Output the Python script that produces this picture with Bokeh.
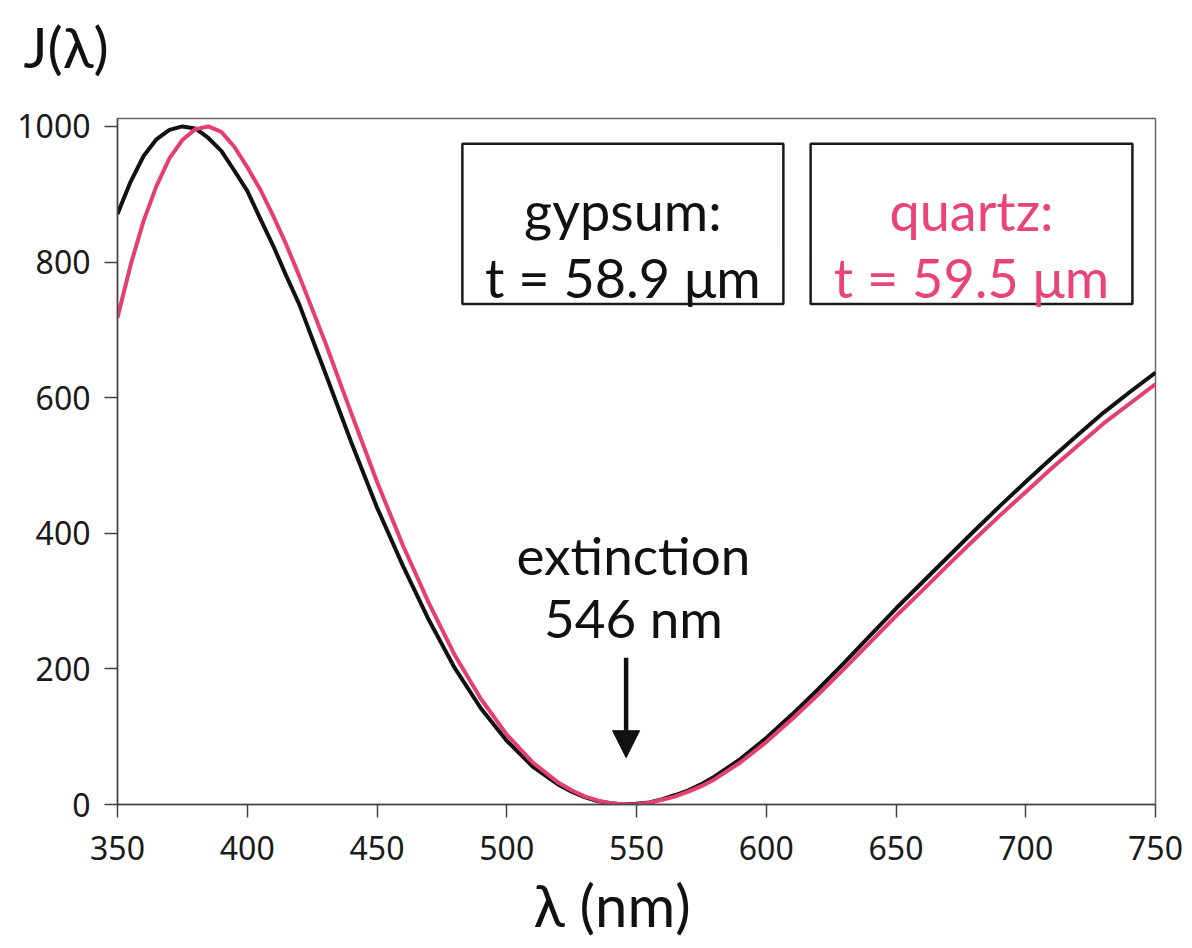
from bokeh.plotting import figure
from bokeh.models import Range1d, FixedTicker, BoxAnnotation, Label, Arrow, NormalHead, ColumnDataSource, Title
from bokeh.embed import file_html
from bokeh.resources import INLINE

# ---- data ----
wavelength_nm = [350, 355, 360, 365, 370, 375, 380, 385, 390, 395, 400, 405, 410, 415, 420,
                 430, 440, 450, 460, 470, 480, 490, 500, 510, 520, 525, 530, 535, 540, 545,
                 550, 555, 560, 565, 570, 575, 580, 590, 600, 610, 620, 630, 640,
                 650, 660, 670, 680, 690, 700, 710, 720, 730, 740, 750]

gypsum_J = [871, 918, 956, 981, 995, 1000, 997, 983, 964, 935, 905, 864, 824, 780, 738,
            637, 535, 438, 352, 272, 201, 142, 94, 56, 29, 19, 11, 5, 2, 0,
            1, 3, 8, 14, 21, 30, 41, 67, 98, 133, 170, 209, 249,
            289, 327, 365, 403, 440, 476, 511, 545, 578, 608, 637]

quartz_J = [718, 795, 860, 912, 953, 980, 996, 1000, 992, 970, 940, 907, 868, 826, 780,
            682, 578, 476, 382, 297, 220, 156, 103, 62, 32, 21, 12, 6, 2, 0,
            0, 3, 7, 12, 19, 27, 37, 62, 92, 126, 162, 200, 239,
            278, 315, 353, 390, 426, 461, 496, 529, 562, 591, 620]

x_ticks = [350, 400, 450, 500, 550, 600, 650, 700, 750]
y_ticks = [0, 200, 400, 600, 800, 1000]

extinction_nm = 546
gypsum_label = ["gypsum:", "t = 58.9 μm"]
quartz_label = ["quartz:", "t = 59.5 μm"]
extinction_label = ["extinction", "546 nm"]

BLACK = "#111111"
PINK = "#E4406F"
PINK_TEXT = "#E8437B"
ANN_FONT = "Lato"

p = figure(width=1192, height=948, output_backend="svg", toolbar_location=None,
           x_range=Range1d(350, 750), y_range=Range1d(0, 1011.7),
           min_border_left=117, min_border_right=37, min_border_top=118, min_border_bottom=144)

p.xgrid.visible = False
p.ygrid.visible = False
p.outline_line_color = "#666666"
p.outline_line_width = 1.5
p.background_fill_color = "white"
p.border_fill_color = "white"

for ax in (p.xaxis[0], p.yaxis[0]):
    ax.axis_line_color = "#444444"
    ax.axis_line_width = 1.5
    ax.major_tick_line_color = "#444444"
    ax.major_tick_line_width = 1.5
    ax.major_tick_out = 13
    ax.major_tick_in = 0
    ax.minor_tick_line_color = None
    ax.major_label_text_font = "Noto Sans"
    ax.major_label_text_font_size = "32px"
    ax.major_label_text_color = "#1a1a1a"

p.xaxis.ticker = FixedTicker(ticks=x_ticks)
p.yaxis.ticker = FixedTicker(ticks=y_ticks)
p.xaxis.major_label_standoff = 18
p.yaxis.major_label_standoff = 14

src = ColumnDataSource(dict(lam=wavelength_nm, g=gypsum_J, q=quartz_J))
p.line("lam", "g", source=src, line_color=BLACK, line_width=4)
p.line("lam", "q", source=src, line_color=PINK, line_width=4)

# annotation boxes
for left, right, lines, color in [(482.9, 606.6, gypsum_label, BLACK), (617.1, 741.1, quartz_label, PINK_TEXT)]:
    p.add_layout(BoxAnnotation(left=left, right=right, bottom=738.2, top=974.3,
                               fill_color="white", fill_alpha=1.0,
                               line_color="#1a1a1a", line_alpha=1.0, line_width=2.5, level="overlay"))
    cx = (left + right) / 2
    for txt, yy in zip(lines, [875.9, 777.4]):
        p.add_layout(Label(x=cx, y=yy, text=txt, text_align="center", text_baseline="alphabetic",
                           text_font=ANN_FONT, text_font_size="54px", text_color=color, level="overlay"))

# extinction annotation
for txt, yy in zip(extinction_label, [369.2, 275.7]):
    p.add_layout(Label(x=548.8, y=yy, text=txt, text_align="center", text_baseline="alphabetic",
                       text_font=ANN_FONT, text_font_size="53px", text_color=BLACK))
p.add_layout(Arrow(x_start=extinction_nm, y_start=216.6, x_end=extinction_nm, y_end=69,
                   line_color=BLACK, line_width=4.5,
                   end=NormalHead(size=27, fill_color=BLACK, line_color=BLACK, line_width=1)))

# spacer between frame and the J(λ) heading
p.add_layout(Title(text=" ", text_font_size="1px", standoff=27), "above")

# axis titles
p.title.text = "J(λ)"
p.title.align = "left"
p.title.vertical_align = "bottom"
p.title.offset = -94
p.title.standoff = 17
p.title.text_font = ANN_FONT
p.title.text_font_size = "57px"
p.title.text_font_style = "normal"
p.title.text_color = BLACK

p.add_layout(Title(text="λ (nm)", align="left", offset=416, standoff=10,
                   text_font=ANN_FONT, text_font_size="58px", text_font_style="normal",
                   text_color=BLACK), "below")

open("out.html", "w").write(file_html(p, INLINE))
